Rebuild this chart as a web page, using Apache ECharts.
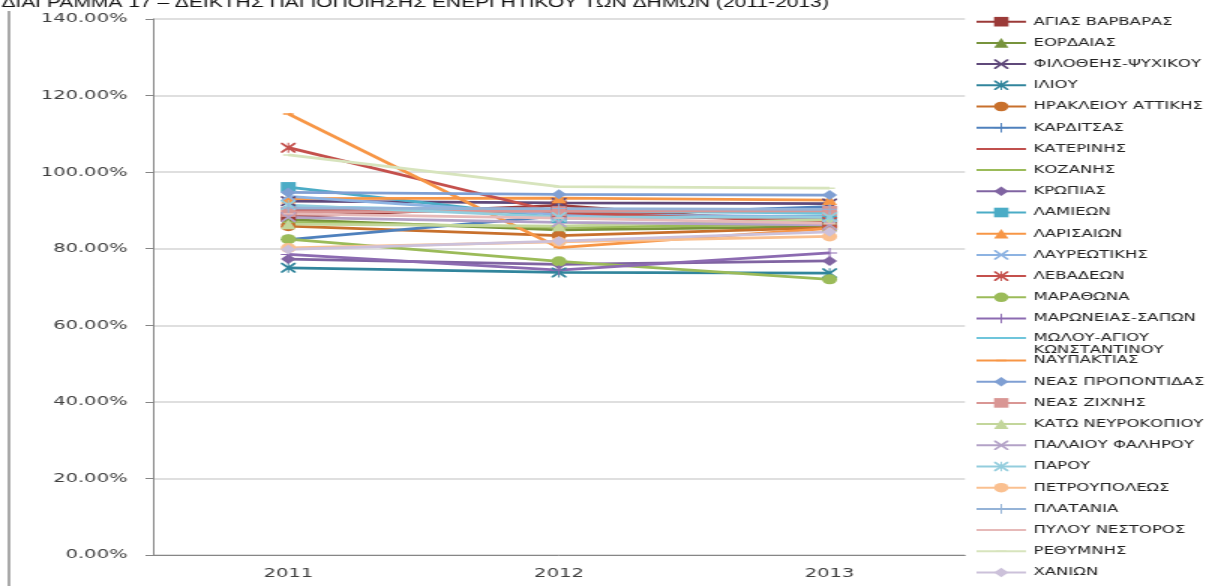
<!DOCTYPE html>
<html lang="el">
<head>
<meta charset="UTF-8">
<title>ΔΙΑΓΡΑΜΜΑ 17</title>
<script src="https://cdn.jsdelivr.net/npm/echarts@6/dist/echarts.min.js"></script>
<style>
  html, body { margin: 0; padding: 0; overflow: hidden; background: #fff; }
  /* the original picture is stretched sideways, so the chart is drawn narrow and scaled */
  #chart { width: 804px; height: 586px; transform: scaleX(1.5); transform-origin: 0 0; }
</style>
</head>
<body>
<div id="chart"></div>
<script>
// years on the x axis
var years = ['2011', '2012', '2013'];

// municipalities, in legend order
var names = [
  'ΑΓΙΑΣ ΒΑΡΒΑΡΑΣ', 'ΕΟΡΔΑΙΑΣ', 'ΦΙΛΟΘΕΗΣ-ΨΥΧΙΚΟΥ', 'ΙΛΙΟΥ', 'ΗΡΑΚΛΕΙΟΥ ΑΤΤΙΚΗΣ',
  'ΚΑΡΔΙΤΣΑΣ', 'ΚΑΤΕΡΙΝΗΣ', 'ΚΟΖΑΝΗΣ', 'ΚΡΩΠΙΑΣ', 'ΛΑΜΙΕΩΝ', 'ΛΑΡΙΣΑΙΩΝ',
  'ΛΑΥΡΕΩΤΙΚΗΣ', 'ΛΕΒΑΔΕΩΝ', 'ΜΑΡΑΘΩΝΑ', 'ΜΑΡΩΝΕΙΑΣ-ΣΑΠΩΝ', 'ΜΩΛΟΥ-ΑΓΙΟΥ ΚΩΝΣΤΑΝΤΙΝΟΥ',
  'ΝΑΥΠΑΚΤΙΑΣ', 'ΝΕΑΣ ΠΡΟΠΟΝΤΙΔΑΣ', 'ΝΕΑΣ ΖΙΧΝΗΣ', 'ΚΑΤΩ ΝΕΥΡΟΚΟΠΙΟΥ', 'ΠΑΛΑΙΟΥ ΦΑΛΗΡΟΥ',
  'ΠΑΡΟΥ', 'ΠΕΤΡΟΥΠΟΛΕΩΣ', 'ΠΛΑΤΑΝΙΑ', 'ΠΥΛΟΥ ΝΕΣΤΟΡΟΣ', 'ΡΕΘΥΜΝΗΣ', 'ΧΑΝΙΩΝ'
];

// index values in %, one array per year, same order as names
var v2011 = [88.3, 87.6, 92.4, 75.0, 85.9, 82.4, 90.2, 86.9, 77.3, 96.1, 93.1, 93.7, 106.4, 82.5,
             78.5, 91.0, 115.2, 94.7, 89.6, 86.4, 88.2, 91.4, 80.2, 90.6, 89.1, 104.5, 79.8];
var v2012 = [91.3, 84.9, 92.0, 73.8, 83.4, 88.6, 89.6, 85.6, 75.9, 88.0, 93.2, 88.9, 89.4, 76.7,
             74.4, 89.9, 80.3, 94.2, 89.8, 85.9, 86.9, 88.3, 81.8, 90.5, 88.0, 96.2, 82.0];
var v2013 = [86.2, 85.8, 91.8, 73.6, 85.5, 91.0, 87.8, 86.4, 76.8, 88.6, 92.7, 88.4, 87.0, 72.0,
             78.9, 89.3, 85.3, 94.0, 89.9, 87.6, 86.2, 88.2, 83.2, 90.3, 86.6, 95.8, 84.4];

var colors = ['#9B3A38', '#77933C', '#5F497A', '#31859C', '#C8702C', '#4F81BD', '#C0504D',
              '#9BBB59', '#8064A2', '#4BACC6', '#F79646', '#8DB3E2', '#C4504C', '#9BBB59',
              '#8C6BB1', '#6FC5DB', '#F79646', '#7F9FD3', '#D99694', '#C3D69B', '#B3A2C7',
              '#93CDDD', '#FAC090', '#95B3D7', '#E6B9B8', '#D7E4BD', '#CCC1DA'];

// Excel style markers, all drawn in a 20x20 box (tiny corner dots keep the box for the dash)
var box = ' M0,0 L0.01,0 L0,0.01 Z M20,20 L19.99,20 L20,19.99 Z';
var xMark = 'M0,0 L2.5,0 L10,7.5 L17.5,0 L20,0 L20,2.5 L12.5,10 L20,17.5 L20,20 L17.5,20 L10,12.5 L2.5,20 L0,20 L0,17.5 L7.5,10 L0,2.5 Z';
var marks = {
  square: 'rect',
  triangle: 'triangle',
  circle: 'circle',
  diamond: 'diamond',
  cross: 'path://' + xMark,
  star: 'path://' + xMark + ' M9,0 L11,0 L11,20 L9,20 Z',
  plus: 'path://M9,0 L11,0 L11,9 L20,9 L20,11 L11,11 L11,20 L9,20 L9,11 L0,11 L0,9 L9,9 Z',
  dash: 'path://M3,8.5 L17,8.5 L17,11.5 L3,11.5 Z' + box
};
var cycle = ['square', 'triangle', 'cross', 'star', 'circle', 'plus', 'dash', 'dash', 'diamond'];

var chart = echarts.init(document.getElementById('chart'));

var series = names.map(function (n, i) {
  return {
    name: n,
    type: 'line',
    data: [v2011[i], v2012[i], v2013[i]],
    symbol: marks[cycle[i % 9]],
    symbolSize: 10,
    showAllSymbol: true,
    lineStyle: { width: 2.75, color: colors[i] },
    itemStyle: { color: colors[i] },
    emphasis: { disabled: true },
    animation: false
  };
});

var legendBase = {
  orient: 'vertical',
  left: 650,
  padding: 0,
  itemWidth: 33,
  itemHeight: 12,
  itemGap: 9.2,
  textStyle: { fontFamily: 'DejaVu Sans', fontSize: 11, lineHeight: 12, color: '#222' }
};

var option = {
  backgroundColor: '#fff',
  animation: false,
  graphic: [
    { type: 'line', shape: { x1: 6, y1: 11, x2: 6, y2: 600 }, style: { stroke: '#8c8c8c', lineWidth: 1.5 } },
    { type: 'text', x: 1, y: 3,
      style: { text: 'ΔΙΑΓΡΑΜΜΑ 17 – ΔΕΙΚΤΗΣ ΠΑΓΙΟΠΟΙΗΣΗΣ ΕΝΕΡΓΗΤΙΚΟΥ ΤΩΝ ΔΗΜΩΝ (2011-2013)',
               font: '14px "Liberation Sans"', fill: '#111', verticalAlign: 'middle' } }
  ],
  legend: [
    Object.assign({}, legendBase, { top: 15.7, data: names.slice(0, 15) }),
    // the long name wraps onto two lines under its marker
    Object.assign({}, legendBase, {
      top: 320, data: names.slice(15, 16),
      formatter: function () { return '\nΜΩΛΟΥ-ΑΓΙΟΥ\nΚΩΝΣΤΑΝΤΙΝΟΥ'; }
    }),
    Object.assign({}, legendBase, { top: 354.5, data: names.slice(16) })
  ],
  grid: { left: 102, right: 160.7, top: 19, bottom: 31 },
  xAxis: {
    type: 'category',
    data: years,
    boundaryGap: true,
    axisLine: { lineStyle: { color: '#868686', width: 1 } },
    axisTick: { length: 5, lineStyle: { color: '#868686' } },
    axisLabel: { fontFamily: 'DejaVu Sans', fontSize: 13, color: '#404040', margin: 12 }
  },
  yAxis: {
    type: 'value',
    min: 0,
    max: 140,
    interval: 20,
    axisLine: { show: true, lineStyle: { color: '#868686', width: 1 } },
    axisTick: { show: true, length: 5, lineStyle: { color: '#868686' } },
    splitLine: { lineStyle: { color: '#d4d4d4', width: 1.5 } },
    axisLabel: {
      fontFamily: 'DejaVu Sans', fontSize: 13, color: '#404040', margin: 17,
      formatter: function (v) { return v.toFixed(2) + '%'; }
    }
  },
  series: series
};

chart.setOption(option);
</script>
</body>
</html>
